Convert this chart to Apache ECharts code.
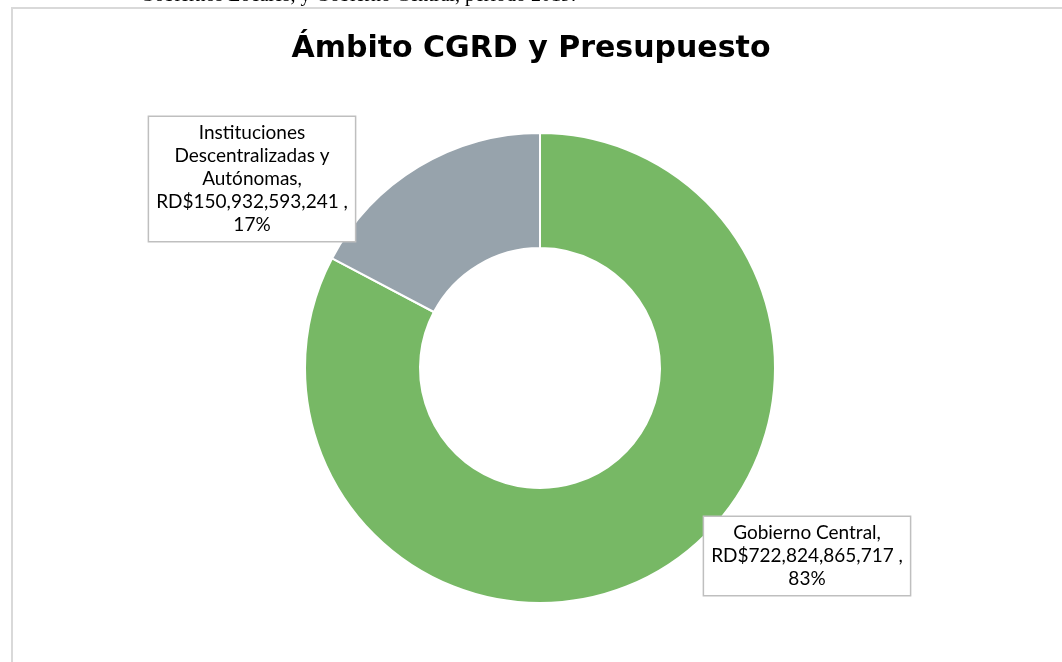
<!DOCTYPE html>
<html>
<head>
<meta charset="utf-8">
<script src="https://cdn.jsdelivr.net/npm/echarts@6/dist/echarts.min.js"></script>
<style>
  html, body { margin: 0; padding: 0; background: #fff; }
  #chart { width: 1062px; height: 662px; }
</style>
</head>
<body>
<div id="chart"></div>
<script>
const categories = ['Gobierno Central', 'Instituciones Descentralizadas y Autónomas'];
const labelNames = ['Gobierno Central', 'Instituciones\nDescentralizadas y\nAutónomas'];
const values = [722824865717, 150932593241];
const colors = ['#77b865', '#97a3ac'];

const total = values.reduce((a, b) => a + b, 0);
const fmt = v => v.toLocaleString('en-US');

// where each data label box sits (box centre)
const labelSpots = [[807, 556], [252, 179]];

const chart = echarts.init(document.getElementById('chart'));
chart.setOption({
  backgroundColor: '#fff',
  animation: false,
  title: {
    text: 'Ámbito CGRD y Presupuesto',
    left: 'center',
    top: 29,
    textStyle: { fontFamily: 'DejaVu Sans', fontWeight: 'bold', fontSize: 30, color: '#000' }
  },
  graphic: [
    {
      type: 'rect',
      shape: { x: 12, y: 8, width: 1100, height: 700 },
      style: { fill: 'none', stroke: '#d9d9d9', lineWidth: 2 },
      silent: true
    },
    {
      type: 'text',
      left: 140,
      top: -14,
      style: {
        text: 'Gobiernos Locales, y Gobierno Central, periodo 2019.',
        font: '20px "Liberation Serif"',
        fill: '#000'
      }
    }
  ],
  series: [{
    type: 'pie',
    center: [540, 368],
    radius: [120, 235],
    startAngle: 90,
    clockwise: true,
    itemStyle: { borderColor: '#fff', borderWidth: 2 },
    labelLine: { show: false },
    label: {
      show: true,
      position: 'outside',
      formatter: p => labelNames[p.dataIndex] + ',\nRD$' + fmt(p.value) + ' ,\n' + Math.round(p.value / total * 100) + '%',
      fontFamily: 'Lato',
      fontSize: 19,
      lineHeight: 23,
      color: '#000',
      align: 'center',
      backgroundColor: '#fff',
      borderColor: '#bfbfbf',
      borderWidth: 1.5,
      padding: [5, 7, 4, 7]
    },
    labelLayout: p => ({
      x: labelSpots[p.dataIndex][0],
      y: labelSpots[p.dataIndex][1],
      align: 'center',
      verticalAlign: 'middle'
    }),
    data: categories.map((name, i) => ({
      name: name,
      value: values[i],
      itemStyle: { color: colors[i] }
    }))
  }]
});
</script>
</body>
</html>
